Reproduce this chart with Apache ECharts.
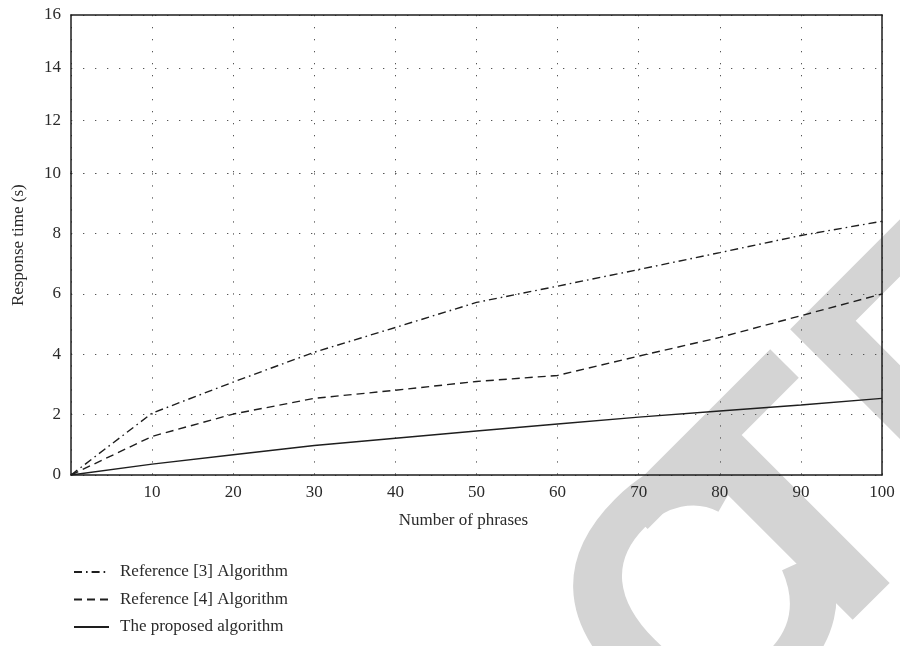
<!DOCTYPE html>
<html>
<head>
<meta charset="utf-8">
<script src="https://cdn.jsdelivr.net/npm/echarts@6/dist/echarts.min.js"></script>
<style>
html,body{margin:0;padding:0;background:#fff;}
#chart{width:900px;height:646px;}
</style>
</head>
<body>
<div id="chart"></div>
<script>
// ---- data ----
const xValues = [0, 10, 20, 30, 40, 50, 60, 70, 80, 90, 100];
const ref3 = [0, 2.05, 3.08, 4.07, 4.89, 5.72, 6.26, 6.81, 7.37, 7.94, 8.41];
const ref4 = [0, 1.28, 2.02, 2.54, 2.81, 3.10, 3.30, 3.94, 4.56, 5.28, 6.00];
const proposed = [0, 0.36, 0.67, 0.98, 1.22, 1.46, 1.69, 1.92, 2.12, 2.32, 2.54];
const seriesNames = ['Reference [3] Algorithm', 'Reference [4] Algorithm', 'The proposed algorithm'];
const xTitle = 'Number of phrases';
const yTitle = 'Response time (s)';

const pairs = arr => xValues.map((x, i) => [x, arr[i]]);

const FONT = '"Liberation Serif", "DejaVu Serif", serif';
const TXT = '#2a2a2a';
const LINE = '#1e1e1e';
const dotted = { color: '#555', width: 1, type: [1.3, 10.7] };
const WM = { fill: '#d4d4d4', font: 'bold 363px "Liberation Sans", Arial, sans-serif', textVerticalAlign: 'middle' };

const chart = echarts.init(document.getElementById('chart'), null, { renderer: 'canvas' });

const option = {
  backgroundColor: '#fff',
  animation: false,
  textStyle: { fontFamily: FONT },
  graphic: [
    { type: 'text', z: -10, x: 718, y: 613, rotation: Math.PI / 4,
      style: Object.assign({ text: 'C', textAlign: 'center' }, WM) },
    { type: 'text', z: -10, x: 722, y: 609, rotation: Math.PI / 4,
      style: Object.assign({ text: 'TED', textAlign: 'left' }, WM) }
  ],
  grid: [
    { left: 71, right: 18, top: 173.3, bottom: 171, containLabel: false },
    { left: 71, right: 18, top: 15, height: 158.3, containLabel: false }
  ],
  xAxis: [
    {
      gridIndex: 0, type: 'value', min: 0, max: 100, interval: 10, position: 'bottom',
      name: xTitle, nameLocation: 'middle', nameGap: 37,
      nameTextStyle: { fontFamily: FONT, fontSize: 17, color: TXT, padding: [0, 26, 0, 0] },
      axisLine: { show: true, lineStyle: { color: LINE, width: 1.5 } },
      axisTick: { show: false },
      axisLabel: { fontFamily: FONT, fontSize: 17, color: TXT, margin: 9,
        formatter: v => (v === 0 ? '' : String(v)) },
      splitLine: { show: true, lineStyle: dotted }
    },
    {
      gridIndex: 1, type: 'value', min: 0, max: 100, interval: 10, position: 'top',
      axisLine: { show: true, onZero: false, lineStyle: { color: LINE, width: 1.5 } },
      axisTick: { show: false },
      axisLabel: { show: false },
      splitLine: { show: true, lineStyle: dotted }
    }
  ],
  yAxis: [
    {
      gridIndex: 0, type: 'value', min: 0, max: 10, interval: 2, position: 'left',
      name: yTitle, nameLocation: 'middle', nameGap: 44, nameRotate: 90,
      nameTextStyle: { fontFamily: FONT, fontSize: 17, color: TXT, padding: [0, 0, 0, 158] },
      axisLine: { show: true, lineStyle: { color: LINE, width: 1.5 } },
      axisTick: { show: false },
      axisLabel: { fontFamily: FONT, fontSize: 17, color: TXT, margin: 10 },
      splitLine: { show: true, lineStyle: dotted }
    },
    {
      gridIndex: 1, type: 'value', min: 10, max: 16, interval: 2, position: 'left',
      axisLine: { show: true, onZero: false, lineStyle: { color: LINE, width: 1.5 } },
      axisTick: { show: false },
      axisLabel: { fontFamily: FONT, fontSize: 17, color: TXT, margin: 10, showMinLabel: false },
      splitLine: { show: true, lineStyle: dotted }
    },
    {
      gridIndex: 0, type: 'value', min: 0, max: 10, position: 'right',
      axisLine: { show: true, onZero: false, lineStyle: { color: LINE, width: 1.5 } },
      axisTick: { show: false }, axisLabel: { show: false }, splitLine: { show: false }
    },
    {
      gridIndex: 1, type: 'value', min: 10, max: 16, position: 'right',
      axisLine: { show: true, onZero: false, lineStyle: { color: LINE, width: 1.5 } },
      axisTick: { show: false }, axisLabel: { show: false }, splitLine: { show: false }
    }
  ],
  legend: {
    orient: 'vertical', left: 68, top: 557,
    itemWidth: 35, itemHeight: 14, itemGap: 7.5,
    itemStyle: { opacity: 0 },
    textStyle: { fontFamily: FONT, fontSize: 17, color: TXT, lineHeight: 20, padding: [0, 0, 0, 6] },
    data: seriesNames
  },
  series: [
    {
      name: seriesNames[0], type: 'line', xAxisIndex: 0, yAxisIndex: 0,
      data: pairs(ref3), symbol: 'none', z: 5,
      lineStyle: { color: LINE, width: 1.4, type: [8, 4, 1.6, 4] },
      itemStyle: { color: LINE }
    },
    {
      name: seriesNames[1], type: 'line', xAxisIndex: 0, yAxisIndex: 0,
      data: pairs(ref4), symbol: 'none', z: 5,
      lineStyle: { color: LINE, width: 1.4, type: [8, 5] },
      itemStyle: { color: LINE }
    },
    {
      name: seriesNames[2], type: 'line', xAxisIndex: 0, yAxisIndex: 0,
      data: pairs(proposed), symbol: 'none', z: 5,
      lineStyle: { color: LINE, width: 1.4, type: 'solid' },
      itemStyle: { color: LINE }
    }
  ]
};
chart.setOption(option);
</script>
</body>
</html>
